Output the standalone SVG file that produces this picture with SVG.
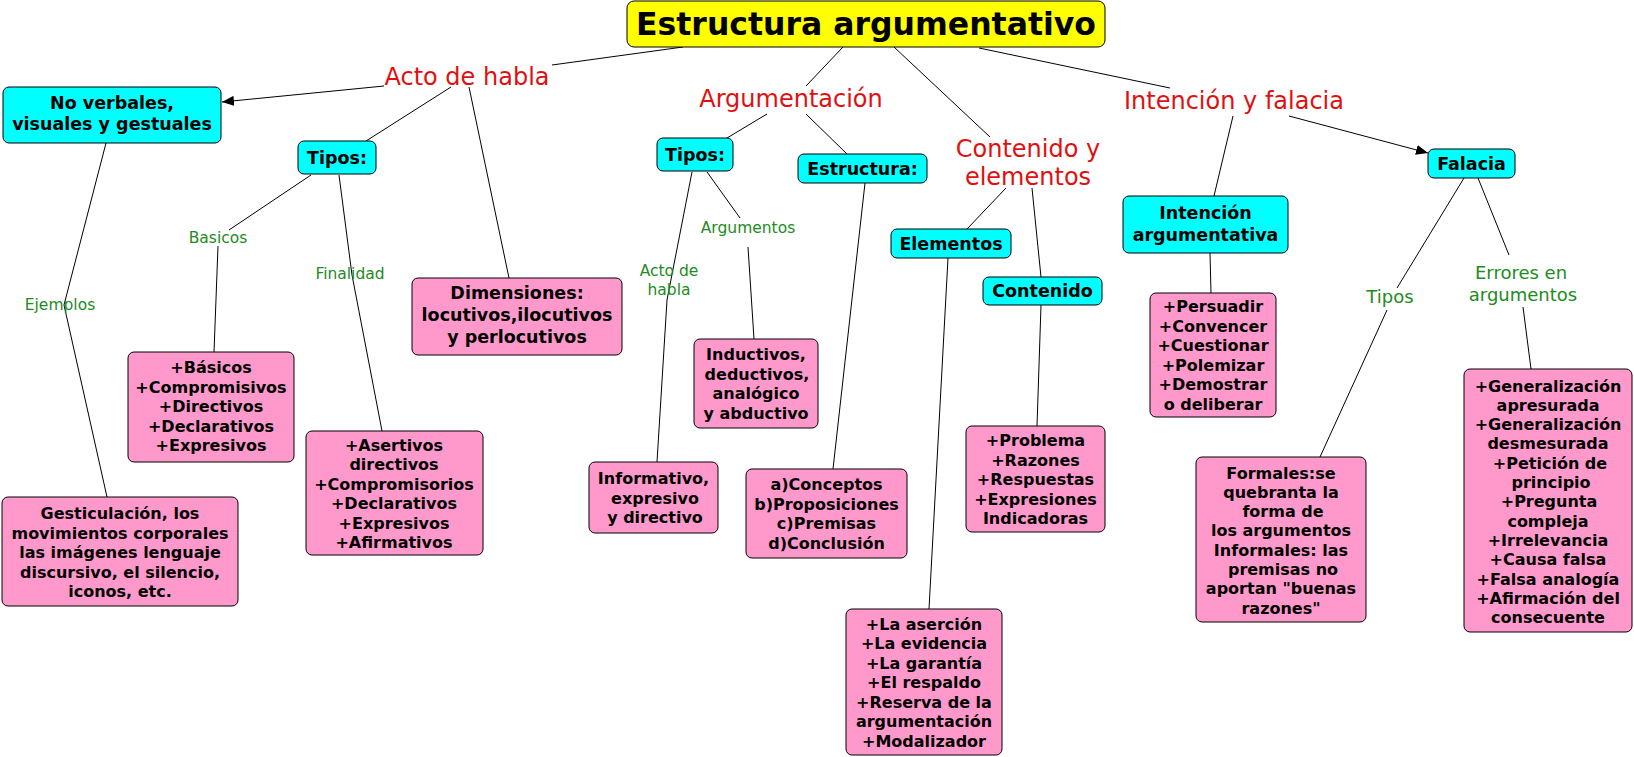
<svg xmlns="http://www.w3.org/2000/svg" width="1634" height="757" viewBox="0 0 1634 757">
<style>
.n rect{stroke:#000;stroke-width:1}
.cy{fill:#00ffff}
.pk{fill:#ff99cc}
.ti{fill:#ffff00}
text{font-family:"DejaVu Sans","Liberation Sans",sans-serif;text-anchor:middle}
.t{font-weight:bold;font-size:16px;fill:#000}
.c{font-weight:bold;font-size:17.5px;fill:#000}
.h{font-weight:bold;font-size:31.5px;fill:#000}
.r{font-size:24px;fill:#e01010}
.g{font-size:15.5px;fill:#228b22}
.g2{font-size:18px;fill:#228b22}
#conn line,#conn polyline{stroke:#000;stroke-width:1;fill:none}
</style>
<defs>
<marker id="ar" markerWidth="13" markerHeight="10" refX="12" refY="5" orient="auto" markerUnits="userSpaceOnUse"><path d="M0,0 L12,5 L0,10 z" fill="#000"/></marker>
</defs>
<rect width="1634" height="757" fill="#fff"/>
<g id="conn">
<line x1="683" y1="47" x2="552" y2="65"/>
<line x1="384" y1="86" x2="222" y2="102" marker-end="url(#ar)"/>
<line x1="451" y1="87" x2="366" y2="141"/>
<line x1="469" y1="87" x2="509" y2="278"/>
<line x1="311" y1="175" x2="229" y2="230"/>
<line x1="218" y1="246" x2="214" y2="352"/>
<polyline points="339,175 352,275 382,431"/>
<polyline points="106,143 64,305 107,497"/>
<line x1="843" y1="47" x2="806" y2="86"/>
<line x1="767" y1="114" x2="727" y2="138"/>
<line x1="806" y1="114" x2="847" y2="154"/>
<line x1="865" y1="183" x2="833" y2="469"/>
<line x1="707" y1="172" x2="740" y2="218"/>
<line x1="748" y1="247" x2="754" y2="339"/>
<polyline points="692,172 667,300 657,462"/>
<line x1="894" y1="47" x2="990" y2="137"/>
<line x1="1006" y1="188" x2="967" y2="229"/>
<line x1="1032" y1="188" x2="1041" y2="277"/>
<line x1="1041" y1="305" x2="1037" y2="426"/>
<line x1="948" y1="258" x2="929" y2="609"/>
<line x1="979" y1="48" x2="1170" y2="88"/>
<line x1="1289" y1="116" x2="1428" y2="153" marker-end="url(#ar)"/>
<line x1="1233" y1="116" x2="1214" y2="196"/>
<line x1="1210" y1="253" x2="1211" y2="293"/>
<line x1="1464" y1="178" x2="1397" y2="288"/>
<line x1="1387" y1="310" x2="1320" y2="457"/>
<line x1="1478" y1="178" x2="1509" y2="255"/>
<line x1="1523" y1="307" x2="1531" y2="369"/>
</g>
<g id="labels">
<text class="r" x="467" y="85">Acto de habla</text>
<text class="r" x="791" y="107">Argumentación</text>
<text class="r" x="1028" y="157">Contenido y</text>
<text class="r" x="1028" y="185">elementos</text>
<text class="r" x="1234" y="109">Intención y falacia</text>
<text class="g" x="218" y="243">Basicos</text>
<text class="g" x="350" y="279">Finalidad</text>
<text class="g" x="60" y="310">Ejemplos</text>
<text class="g" x="748" y="233">Argumentos</text>
<text class="g" x="669" y="276">Acto de</text>
<text class="g" x="669" y="295">habla</text>
<text class="g2" x="1390" y="303">Tipos</text>
<text class="g2" x="1521" y="279">Errores en</text>
<text class="g2" x="1523" y="301">argumentos</text>
</g>
<g id="title" class="n"><rect class="ti" x="627" y="1" width="478" height="46" rx="7"/><text class="h" x="866" y="35">Estructura argumentativo</text></g>
<g id="noverbales" class="n"><rect class="cy" x="3" y="87" width="218" height="56" rx="6"/><text class="c" x="112" y="109">No verbales,</text><text class="c" x="112" y="130">visuales y gestuales</text></g>
<g id="tipos1" class="n"><rect class="cy" x="298" y="141" width="78" height="33" rx="6"/><text class="c" x="337" y="164">Tipos:</text></g>
<g id="dimensiones" class="n"><rect class="pk" x="412" y="278" width="210" height="77" rx="6"/><text class="c" x="517" y="299">Dimensiones:</text><text class="c" x="517" y="321">locutivos,ilocutivos</text><text class="c" x="517" y="343">y perlocutivos</text></g>
<g id="basicos" class="n"><rect class="pk" x="128" y="352" width="166" height="110" rx="6"/>
<text class="t" x="211" y="373">+Básicos</text><text class="t" x="211" y="392.5">+Compromisivos</text><text class="t" x="211" y="412">+Directivos</text><text class="t" x="211" y="431.5">+Declarativos</text><text class="t" x="211" y="451">+Expresivos</text></g>
<g id="asertivos" class="n"><rect class="pk" x="306" y="431" width="177" height="124" rx="6"/>
<text class="t" x="394" y="450.5">+Asertivos</text><text class="t" x="394" y="470">directivos</text><text class="t" x="394" y="489.5">+Compromisorios</text><text class="t" x="394" y="509">+Declarativos</text><text class="t" x="394" y="528.5">+Expresivos</text><text class="t" x="394" y="548">+Afirmativos</text></g>
<g id="gesticulacion" class="n"><rect class="pk" x="2" y="497" width="236" height="109" rx="6"/>
<text class="t" x="120" y="519">Gesticulación, los</text><text class="t" x="120" y="538.5">movimientos corporales</text><text class="t" x="120" y="558">las imágenes lenguaje</text><text class="t" x="120" y="577.5">discursivo, el silencio,</text><text class="t" x="120" y="597">iconos, etc.</text></g>
<g id="tipos2" class="n"><rect class="cy" x="657" y="138" width="76" height="33" rx="6"/><text class="c" x="695" y="161">Tipos:</text></g>
<g id="estructura" class="n"><rect class="cy" x="798" y="154" width="129" height="29" rx="6"/><text class="c" x="862.5" y="175">Estructura:</text></g>
<g id="elementos" class="n"><rect class="cy" x="891" y="229" width="120" height="29" rx="6"/><text class="c" x="951" y="250">Elementos</text></g>
<g id="contenido" class="n"><rect class="cy" x="983" y="277" width="119" height="28" rx="6"/><text class="c" x="1042.5" y="297">Contenido</text></g>
<g id="inductivos" class="n"><rect class="pk" x="694" y="339" width="124" height="89" rx="6"/>
<text class="t" x="756" y="360">Inductivos,</text><text class="t" x="757" y="379.5">deductivos,</text><text class="t" x="756" y="399">analógico</text><text class="t" x="756" y="418.5">y abductivo</text></g>
<g id="informativo" class="n"><rect class="pk" x="589" y="462" width="129" height="71" rx="6"/>
<text class="t" x="653.5" y="484">Informativo,</text><text class="t" x="655" y="503.5">expresivo</text><text class="t" x="655" y="523">y directivo</text></g>
<g id="conceptos" class="n"><rect class="pk" x="746" y="469" width="161" height="89" rx="6"/>
<text class="t" x="826.5" y="490">a)Conceptos</text><text class="t" x="826.5" y="509.5">b)Proposiciones</text><text class="t" x="826.5" y="529">c)Premisas</text><text class="t" x="826.5" y="548.5">d)Conclusión</text></g>
<g id="problema" class="n"><rect class="pk" x="966" y="426" width="139" height="106" rx="6"/>
<text class="t" x="1035.5" y="446">+Problema</text><text class="t" x="1035.5" y="465.5">+Razones</text><text class="t" x="1035.5" y="485">+Respuestas</text><text class="t" x="1035.5" y="504.5">+Expresiones</text><text class="t" x="1035.5" y="524">Indicadoras</text></g>
<g id="asercion" class="n"><rect class="pk" x="846" y="609" width="156" height="146" rx="6"/>
<text class="t" x="924" y="629.5">+La aserción</text><text class="t" x="924" y="649">+La evidencia</text><text class="t" x="924" y="668.5">+La garantía</text><text class="t" x="924" y="688">+El respaldo</text><text class="t" x="924" y="707.5">+Reserva de la</text><text class="t" x="924" y="727">argumentación</text><text class="t" x="924" y="746.5">+Modalizador</text></g>
<g id="intencion" class="n"><rect class="cy" x="1123" y="196" width="165" height="57" rx="6"/><text class="c" x="1205.5" y="219">Intención</text><text class="c" x="1205.5" y="241">argumentativa</text></g>
<g id="falacia" class="n"><rect class="cy" x="1428" y="149" width="87" height="29" rx="6"/><text class="c" x="1471.5" y="170">Falacia</text></g>
<g id="persuadir" class="n"><rect class="pk" x="1150" y="293" width="126" height="124" rx="6"/>
<text class="t" x="1213" y="312">+Persuadir</text><text class="t" x="1213" y="331.5">+Convencer</text><text class="t" x="1213" y="351">+Cuestionar</text><text class="t" x="1213" y="370.5">+Polemizar</text><text class="t" x="1213" y="390">+Demostrar</text><text class="t" x="1213" y="409.5">o deliberar</text></g>
<g id="formales" class="n"><rect class="pk" x="1196" y="457" width="170" height="165" rx="6"/>
<text class="t" x="1281" y="478.5">Formales:se</text><text class="t" x="1281" y="497.8">quebranta la</text><text class="t" x="1283" y="517.1">forma de</text><text class="t" x="1281" y="536.4">los argumentos</text><text class="t" x="1281" y="555.7">Informales: las</text><text class="t" x="1283" y="575">premisas no</text><text class="t" x="1281" y="594.3">aportan "buenas</text><text class="t" x="1281" y="613.6">razones"</text></g>
<g id="generalizacion" class="n"><rect class="pk" x="1464" y="369" width="168" height="263" rx="6"/>
<text class="t" x="1548" y="391.5">+Generalización</text><text class="t" x="1548" y="410.8">apresurada</text><text class="t" x="1548" y="430.1">+Generalización</text><text class="t" x="1548" y="449.4">desmesurada</text><text class="t" x="1550" y="468.7">+Petición de</text><text class="t" x="1551" y="488">principio</text><text class="t" x="1549" y="507.3">+Pregunta</text><text class="t" x="1548" y="526.6">compleja</text><text class="t" x="1548" y="545.9">+Irrelevancia</text><text class="t" x="1548" y="565.2">+Causa falsa</text><text class="t" x="1548" y="584.5">+Falsa analogía</text><text class="t" x="1548" y="603.8">+Afirmación del</text><text class="t" x="1548" y="623.1">consecuente</text></g>
</svg>
